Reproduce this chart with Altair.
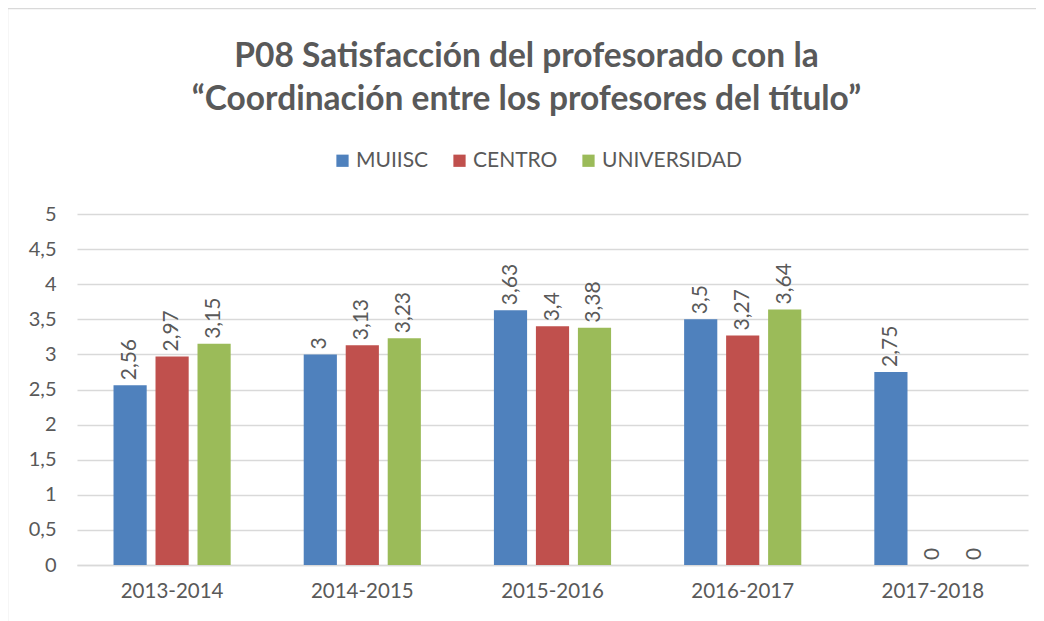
import altair as alt
import pandas as pd

years = ["2013-2014", "2014-2015", "2015-2016", "2016-2017", "2017-2018"]
series = ["MUIISC", "CENTRO", "UNIVERSIDAD"]
muiisc = [2.56, 3.00, 3.63, 3.50, 2.75]
centro = [2.97, 3.13, 3.40, 3.27, 0.0]
universidad = [3.15, 3.23, 3.38, 3.64, 0.0]
colors = ["#4F81BD", "#C0504D", "#9BBB59"]

rows = []
for name, vals in zip(series, [muiisc, centro, universidad]):
    for y, v in zip(years, vals):
        rows.append({"year": y, "serie": name, "value": v,
                     "label": f"{v:g}".replace(".", ",")})
df = pd.DataFrame(rows)

FONT = "Lato"
GREY = "#595959"

x = alt.X("year:N", sort=years, title=None,
          scale=alt.Scale(paddingInner=0.384, paddingOuter=0.192),
          axis=alt.Axis(labelAngle=0, labelFontSize=20.5, labelColor=GREY, labelFont=FONT,
                        labelPadding=16, ticks=False, domainColor="#d9d9d9", domainWidth=1.5))
xo = alt.XOffset("serie:N", sort=series, scale=alt.Scale(paddingInner=0.21, paddingOuter=0))
y = alt.Y("value:Q", title=None,
          scale=alt.Scale(domain=[0, 5], nice=False),
          axis=alt.Axis(values=[0, 0.5, 1, 1.5, 2, 2.5, 3, 3.5, 4, 4.5, 5],
                        format="~g", labelExpr="replace(datum.label, '.', ',')",
                        labelFontSize=20, labelColor=GREY, labelFont=FONT, labelPadding=21,
                        ticks=False, domain=False, gridColor="#d9d9d9", gridWidth=1.5))

bars = alt.Chart(df).mark_bar().encode(
    x=x, xOffset=xo, y=y,
    color=alt.Color("serie:N", sort=series,
                    scale=alt.Scale(domain=series, range=colors),
                    legend=alt.Legend(title=None, orient="none", direction="horizontal",
                                      legendX=255, legendY=-64, symbolType="square",
                                      symbolSize=150, symbolStrokeWidth=0,
                                      labelFontSize=21, labelFont=FONT, labelColor=GREY,
                                      labelOffset=3, columnPadding=20)),
)

labels = alt.Chart(df).mark_text(angle=270, align="left", baseline="middle", dx=5,
                                 fontSize=21, font=FONT, color=GREY).encode(
    x=x, xOffset=xo, y=y, text="label:N")

frame = alt.Chart(pd.DataFrame({"a": [0]})).mark_rect(
    fill=None, stroke="#d9d9d9", strokeWidth=1.5).encode(
    x=alt.value(-69.5), x2=alt.value(1100), y=alt.value(-205.5), y2=alt.value(600))

chart = alt.layer(frame, bars, labels).properties(
    width=951, height=351,
    autosize=alt.AutoSizeParams(type="none"),
    padding={"left": 69, "top": 206, "right": 8, "bottom": 56},
    title=alt.TitleParams(
        ["P08 Satisfacción del profesorado con la",
         "“Coordinación entre los profesores del título”"],
        anchor="middle", dx=-26, fontSize=33.5, font=FONT, fontWeight="bold",
        color=GREY, lineHeight=43, offset=-110),
).configure_view(stroke=None)

chart.save("out.html", embed_options={"renderer": "svg", "actions": False})
